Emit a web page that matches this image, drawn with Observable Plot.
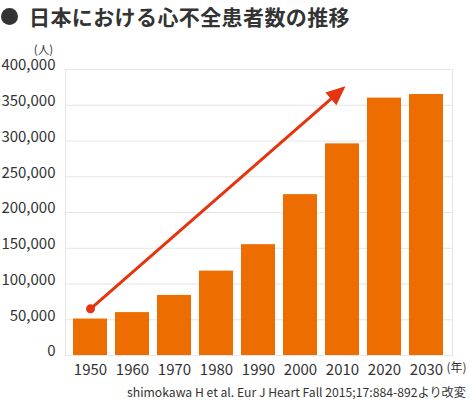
<!DOCTYPE html>
<html>
<head>
<meta charset="utf-8">
<script src="https://cdn.jsdelivr.net/npm/d3@7"></script>
<script src="https://cdn.jsdelivr.net/npm/@observablehq/plot@0.6"></script>
<style>
  body { margin: 0; width: 470px; height: 400px; position: relative; background: #fff;
         font-family: "Noto Sans CJK JP", "Noto Sans", sans-serif; color: #333; overflow: hidden; }
  #title { position: absolute; left: 0; top: 3px; height: 26px; display: flex; align-items: center;
           font-size: 21px; font-weight: bold; letter-spacing: 0.4px; white-space: nowrap; }
  #title .dot { width: 17px; height: 17px; border-radius: 50%; background: #333; margin: 0 11px 0 1px; }
  #chart { position: absolute; left: 0; top: 36px; }
  #caption { position: absolute; right: 4px; top: 385px; font-size: 12.2px; line-height: 14px; white-space: nowrap; }
</style>
</head>
<body>
<div id="title"><span class="dot"></span><span>日本における心不全患者数の推移</span></div>
<div id="chart"></div>
<div id="caption">shimokawa H et al. Eur J Heart Fall 2015;17:884-892より改変</div>
<script>
const years = ["1950", "1960", "1970", "1980", "1990", "2000", "2010", "2020", "2030"];
const patients = [51000, 60000, 84000, 118000, 155000, 225000, 296000, 360000, 365000];
const yTicks = [0, 50000, 100000, 150000, 200000, 250000, 300000, 350000, 400000];
const arrowYears = ["1950", "2010"];
const arrowValues = [65300, 373000];
const unitY = "(人)";
const unitX = "(年)";

const data = years.map((year, i) => ({year, value: patients[i]}));
const arrow = arrowYears.map((year, i) => ({year, value: arrowValues[i]}));

// filled arrow head, origin sits on the line end, tip points up
const arrowHead = {
  draw(ctx) {
    ctx.moveTo(0, -3.9);
    ctx.lineTo(8.4, 15.4);
    ctx.lineTo(-8.4, 15.4);
    ctx.closePath();
  }
};

const red = "#e6340e";

const chart = Plot.plot({
  width: 470,
  height: 346,
  marginTop: 33,
  marginBottom: 27,
  marginLeft: 65,
  marginRight: 18,
  style: { fontSize: "15px", fontFamily: '"Noto Sans CJK JP", "Noto Sans", sans-serif', color: "#333", background: "transparent" },
  x: { type: "band", domain: years, padding: 0.186, label: null },
  y: { domain: [0, 400000], label: null },
  marks: [
    Plot.gridY(yTicks, { stroke: "#e4e4e4", strokeOpacity: 1 }),
    Plot.frame({ stroke: "#e6e6e6" }),
    Plot.barY(data, { x: "year", y: "value", fill: "#ee6d00" }),
    Plot.axisX({ tickSize: 0, tickPadding: 9, label: null }),
    Plot.axisY(yTicks, { tickSize: 0, tickPadding: 10, tickFormat: d3.format(","), dy: -4, label: null }),
    Plot.text([unitY], { frameAnchor: "top-left", text: d => d, dx: -22, dy: -24, fontSize: 11.5, textAnchor: "middle" }),
    Plot.text([unitX], { frameAnchor: "bottom-right", text: d => d, dx: 4, dy: 16, fontSize: 12, textAnchor: "middle" }),
    Plot.line(arrow, { x: "year", y: "value", stroke: red, strokeWidth: 3 }),
    Plot.dot(arrow.slice(0, 1), { x: "year", y: "value", r: 4.5, fill: red }),
    Plot.dot(arrow.slice(1), { x: "year", y: "value", symbol: arrowHead, fill: red, rotate: 49 })
  ]
});
document.getElementById("chart").append(chart);
</script>
</body>
</html>
